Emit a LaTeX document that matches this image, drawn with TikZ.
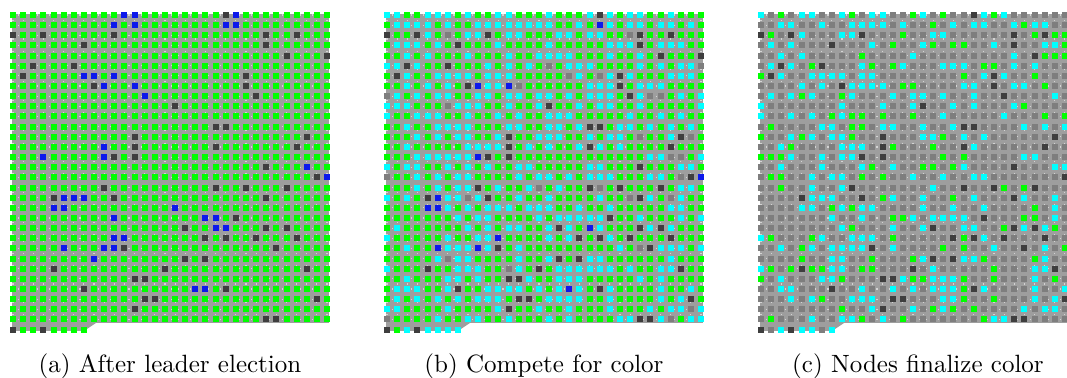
\documentclass[tikz,border=0pt]{standalone}
\usetikzlibrary{calc}
\definecolor{gcfree}{RGB}{0,255,0}
\definecolor{gcleader}{RGB}{12,24,235}
\definecolor{gccand}{RGB}{0,255,255}
\definecolor{gcdead}{RGB}{62,62,62}
\definecolor{gcdone}{RGB}{126,126,126}
\definecolor{gcmesh}{RGB}{158,158,158}
\definecolor{gclink}{RGB}{212,212,212}
\tikzset{
  gcnode/.style={fill=#1, draw=none},
  gcfield/.style={fill=gcmesh, draw=none},
  gclinks/.style={draw=gclink, line width=0.45pt, dotted},
  gccap/.style={font=\normalsize, anchor=base, inner sep=0pt},
}
% leaders after election in (a), column/row
\newcommand{\gcleaders}{11/0,12/0,10/1,12/1,21/0,22/0,21/1,22/1,10/2,10/6,7/6,8/6,9/7,12/7,13/8,3/14,9/13,9/14,29/15,30/16,31/16,5/18,6/18,7/18,4/19,5/19,16/19,19/20,20/20,20/21,21/21,10/20,10/22,11/22,10/23,11/23,9/23,8/24,5/23,18/27,19/27}
\foreach \gi/\gj in \gcleaders {\expandafter\gdef\csname gcl@\gi @\gj\endcsname{}}

\begin{document}
\begin{tikzpicture}[x=0.4pt, y=-0.4pt]
  \useasboundingbox (0,0) rectangle (1067,378);
  \clip (0,0) rectangle (1067,378);
  \pgfmathsetseed{4211}

  % grid field and captions
  \foreach \dx/\lbl/\txt in {0/a/After leader election, 374/b/Compete for color, 748/c/Nodes finalize color} {
    \fill[gcfield] (12+\dx,14) rectangle (329+\dx,323);
    \fill[gcfield] (12+\dx,323) -- (12+\dx,331) -- (84+\dx,331) -- (96+\dx,323) -- cycle;
    \foreach \j in {0,...,30} \draw[gclinks] (12+\dx,15+10.15*\j) -- (329+\dx,15+10.15*\j);
    \foreach \i in {0,...,31} \draw[gclinks] (13+10.13*\i+\dx,14) -- (13+10.13*\i+\dx,323);
    \node[gccap] (cap\lbl) at (170+\dx,372.5) {(\lbl) \txt};
  }

  % nodes, same cell in all three panels
  \foreach \j in {0,...,31} {
    \foreach \i in {0,...,31} {
      \pgfmathtruncatemacro\k{32*\j+\i}
      \ifnum\k<1000
        \pgfmathsetmacro\ra{rnd}
        \pgfmathsetmacro\rb{rnd}
        \def\gca{gcfree}\def\gcb{gcfree}\def\gcc{gcdone}
        \ifdim\rb pt<0.40pt \def\gcb{gccand}\fi
        \ifdim\rb pt>0.965pt \def\gcb{gcdone}\fi
        \ifdim\rb pt<0.23pt \def\gcc{gccand}\fi
        \ifdim\rb pt>0.84pt \def\gcc{gcfree}\fi
        \ifdim\rb pt>0.965pt \def\gcc{gcdone}\fi
        \ifcsname gcl@\i @\j\endcsname
          \def\gca{gcleader}\def\gcb{gccand}\def\gcc{gccand}
          \ifdim\rb pt<0.3pt \def\gcb{gcleader}\fi
        \fi
        \ifdim\ra pt<0.065pt \def\gca{gcdead}\def\gcb{gcdead}\def\gcc{gcdead}\fi
        \fill[gcnode=\gca] (10+10.13*\i,12+10.15*\j) rectangle ++(6,6);
        \fill[gcnode=\gcb] (384+10.13*\i,12+10.15*\j) rectangle ++(6,6);
        \fill[gcnode=\gcc] (758+10.13*\i,12+10.15*\j) rectangle ++(6,6);
      \fi
    }
  }
\end{tikzpicture}
\end{document}
